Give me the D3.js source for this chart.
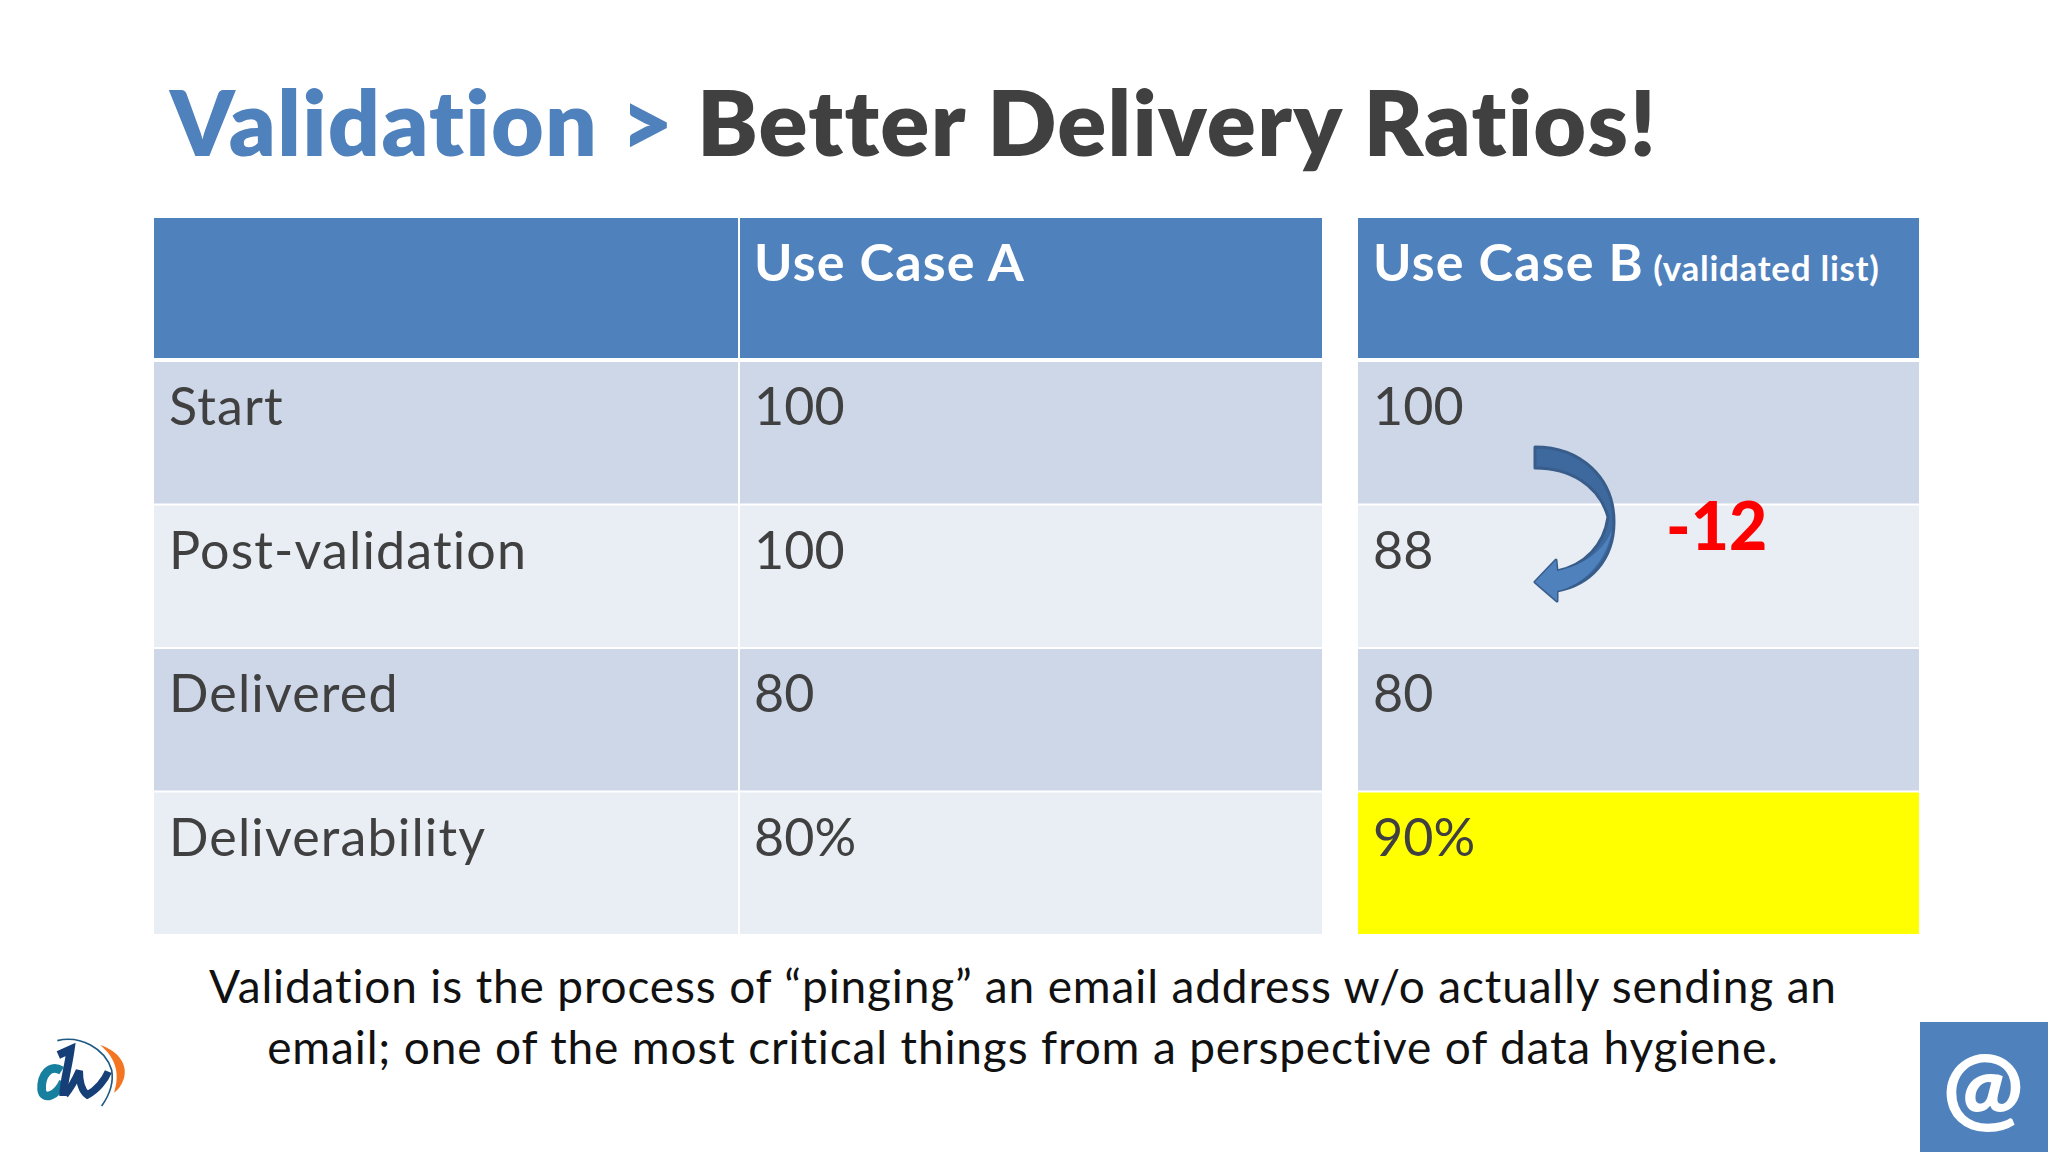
<!DOCTYPE html>
<html>
<head>
<meta charset="utf-8">
<script src="https://cdn.jsdelivr.net/npm/d3@7"></script>
<style>
  html, body { margin: 0; background: #fff; }
  svg { display: block; }
  text { font-family: Lato, "Open Sans", sans-serif; font-variant-ligatures: none; }
</style>
</head>
<body>
<svg id="svg" width="2048" height="1152"></svg>
<script>
const titleParts = ["Validation > ", "Better Delivery Ratios!"];
const rowLabels = ["Start", "Post-validation", "Delivered", "Deliverability"];
const caseA = ["100", "100", "80", "80%"];
const caseB = ["100", "88", "80", "90%"];
const headerA = "Use Case A";
const headerB = "Use Case B";
const headerBNote = " (validated list)";
const delta = "-12";
const footnote = [
  "Validation is the process of “pinging” an email address w/o actually sending an",
  "email; one of the most critical things from a perspective of data hygiene."
];

const svg = d3.select("#svg");
const BLUE = "#4f81bd";
const INK = "#404040";

// title
const title = svg.append("text").attr("x", 170).attr("y", 156)
  .attr("font-size", 91).attr("font-weight", 800).attr("letter-spacing", 1.3);
title.append("tspan").attr("fill", BLUE).text(titleParts[0]);
title.append("tspan").attr("fill", INK).text(titleParts[1]);

// table layout
const y = d3.scaleBand().domain(rowLabels).range([362, 934]).paddingInner(0.014).paddingOuter(0);
const cols = [
  { x0: 154, x1: 738, pad: 15, head: "", cells: rowLabels, spacing: 1.15 },
  { x0: 740, x1: 1322, pad: 14, head: headerA, cells: caseA, spacing: 0.1 },
  { x0: 1358, x1: 1919, pad: 15, head: headerB, cells: caseB, spacing: 0.1 }
];
const headTop = 218, headBottom = 358;
const rowFill = i => i % 2 === 0 ? "#cdd7e8" : "#e9edf4";

const col = svg.selectAll("g.col").data(cols).enter().append("g").attr("class", "col");

col.append("rect")
  .attr("x", d => d.x0).attr("y", headTop)
  .attr("width", d => d.x1 - d.x0).attr("height", headBottom - headTop)
  .attr("fill", BLUE);

col.selectAll("rect.cell").data(d => d.cells.map((c, i) => ({ c, i, x0: d.x0, x1: d.x1 })))
  .enter().append("rect").attr("class", "cell")
  .attr("x", d => d.x0).attr("y", d => y(rowLabels[d.i]))
  .attr("width", d => d.x1 - d.x0).attr("height", y.bandwidth())
  .attr("fill", d => d.c === "90%" ? "#ffff00" : rowFill(d.i));

col.selectAll("text.cell").data(d => d.cells.map((c, i) => ({ c, i, x: d.x0 + d.pad, spacing: d.spacing })))
  .enter().append("text").attr("class", "cell")
  .attr("x", d => d.x).attr("y", d => y(rowLabels[d.i]) + 63)
  .attr("font-size", 52).attr("letter-spacing", d => d.spacing).attr("fill", INK).text(d => d.c);

const heads = col.append("text")
  .attr("x", d => d.x0 + d.pad).attr("y", 281)
  .attr("font-size", 52).attr("font-weight", 700).attr("letter-spacing", 1.2).attr("fill", "#fff");
heads.append("tspan").text(d => d.head);
heads.filter(d => d.head === headerB).append("tspan")
  .attr("font-size", 35).attr("letter-spacing", 0.7).text(headerBNote);

// curved arrow between the 100 and 88 cells
svg.append("path")
  .attr("d", "M1535 447 C1580 447 1614 477 1614 522 C1614 560 1590 585 1557 591 L1557 601 L1535 582 L1556 560 L1557 571 C1585 565 1604 545 1608 517 C1599 485 1570 468 1535 468 Z")
  .attr("fill", "#3d699f").attr("stroke", "#385d8a").attr("stroke-width", 3).attr("stroke-linejoin", "round");
svg.append("path")
  .attr("d", "M1612 530 C1607 560 1585 585 1557 591 L1557 601 L1535 582 L1556 560 L1557 571 C1585 565 1604 550 1612 530 Z")
  .attr("fill", "#4f81bd");

svg.append("text").attr("x", 1666).attr("y", 550)
  .attr("font-size", 66).attr("font-weight", 900).attr("fill", "#ff0000").text(delta);

// footnote
svg.selectAll("text.foot").data(footnote).enter().append("text")
  .attr("class", "foot").attr("x", 1023).attr("y", (d, i) => 1003 + i * 61)
  .attr("text-anchor", "middle").attr("font-size", 46).attr("letter-spacing", 0.85).attr("fill", "#111").text(d => d);

// corner box
svg.append("rect").attr("x", 1920).attr("y", 1022).attr("width", 128).attr("height", 130).attr("fill", BLUE);
svg.append("text").attr("x", 1983).attr("y", 1120).attr("text-anchor", "middle")
  .attr("font-size", 96).attr("font-weight", 900).attr("fill", "#fff").text("@");

// logo
const logo = svg.append("g").attr("transform", "translate(0,1000) scale(0.3333)").attr("fill", "none");
logo.append("path").attr("d", "M300 135 C350 150 385 190 372 235 C365 255 355 270 342 278 C360 225 350 175 300 135 Z")
  .attr("fill", "#f47521");
logo.append("path").attr("d", "M172 122 C240 105 315 145 335 210 C342 250 325 290 305 318")
  .attr("stroke", "#1d5a85").attr("stroke-width", 5);
logo.append("path").attr("d", "M185 212 C150 190 122 225 125 270 C130 305 172 285 190 245")
  .attr("stroke", "#17809f").attr("stroke-width", 26);
logo.append("path").attr("d", "M175 165 L212 148 C205 200 190 250 190 288")
  .attr("stroke", "#163f78").attr("stroke-width", 24);
logo.append("path").attr("d", "M195 285 C215 260 228 235 238 212 C238 240 243 270 262 285 C290 270 315 240 325 215")
  .attr("stroke", "#163f78").attr("stroke-width", 22);
</script>
</body>
</html>
